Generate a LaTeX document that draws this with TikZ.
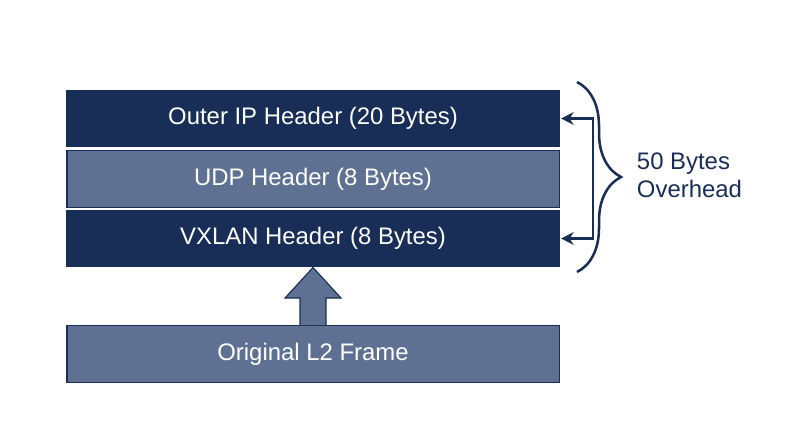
\documentclass[tikz,border=0pt]{standalone}
\usepackage{fontspec}
\setmainfont{Liberation Sans}
\usetikzlibrary{calc,decorations.pathreplacing,arrows.meta}

\definecolor{navy}{HTML}{182E56}
\definecolor{slate}{HTML}{5F7192}

\begin{document}
\begin{tikzpicture}[x=0.025cm, y=-0.025cm,
            hdr/.style = {shape=rectangle, draw=navy, line width=0.8pt,
                          minimum width=12.3cm, minimum height=1.42cm,
                          text=white, font=\fontsize{17}{20}\selectfont},
            darkhdr/.style = {hdr, fill=navy},
            lighthdr/.style = {hdr, fill=slate}]
    \useasboundingbox (0,0) rectangle (800,447);
    % encapsulation stack
    \node[darkhdr]  (ip)  at (313,118.5) {Outer IP Header (20 Bytes)};
    \node[lighthdr] (udp) at (313,179)   {UDP Header (8 Bytes)};
    \node[darkhdr]  (vx)  at (313,238.5) {VXLAN Header (8 Bytes)};
    \node[lighthdr] (l2)  at (313,354)   {Original L2 Frame};
    % block arrow up into the stack
    \draw[navy, fill=slate, line width=0.8pt]
        ($(l2.north)+(-13,0)$) -- ++(0,-27) -- ++(-15,0) -- (vx.south)
        -- ($(l2.north)+(28,-27)$) -- ++(-15,0) -- ($(l2.north)+(13,0)$);
    % overhead span
    \draw[navy, line width=1.8pt, {Stealth[length=9pt,width=9pt]}-{Stealth[length=9pt,width=9pt]}]
        ([xshift=1pt]ip.east) -- ++(32,0) |- ([xshift=1pt]vx.east);
    \draw[navy, line width=1.8pt, decorate,
          decoration={brace, amplitude=1.1cm}] (577,82) -- (577,272);
    \node[anchor=west, align=left, text=navy,
          font=\fontsize{17}{20}\selectfont] (ovh) at (632,175) {50 Bytes\\Overhead};
\end{tikzpicture}
\end{document}
